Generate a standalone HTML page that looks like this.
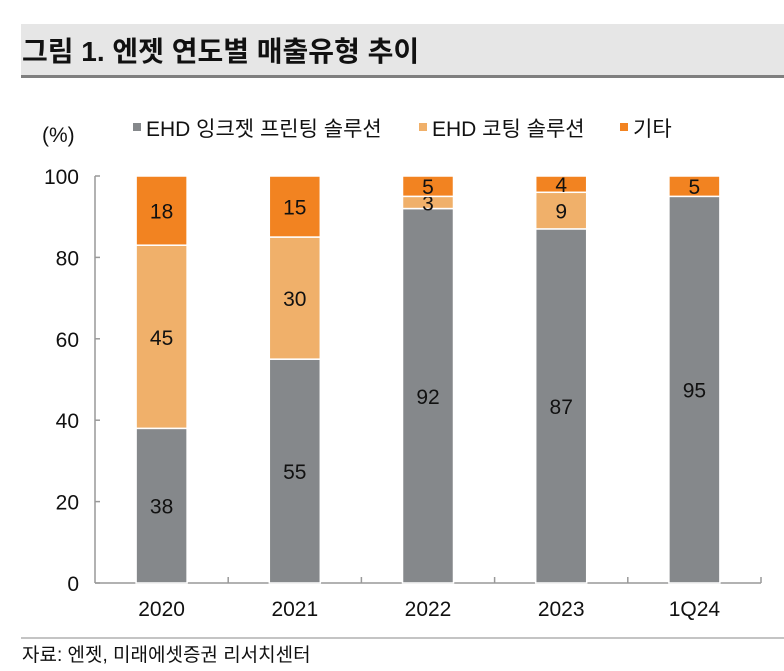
<!DOCTYPE html>
<html><head><meta charset="utf-8"><style>
body{margin:0;width:784px;height:666px;background:#fff;overflow:hidden;font-family:"Liberation Sans","Noto Sans CJK KR",sans-serif;}
</style></head><body>
<svg width="784" height="666" xmlns="http://www.w3.org/2000/svg" style="font-family:'Liberation Sans','Noto Sans CJK KR',sans-serif">
<rect x="21" y="24" width="763" height="51" fill="#e6e6e6"/>
<rect x="21" y="75" width="763" height="3" fill="#7f7f7f"/>
<text x="22" y="61" font-size="28" font-weight="bold" fill="#111">그림 1. 엔젯 연도별 매출유형 추이</text>
<text x="42" y="142" font-size="21" fill="#111">(%)</text>
<g font-size="21" fill="#111">
<rect x="133" y="123" width="8" height="8" fill="#85888b"/>
<text x="146" y="136">EHD 잉크젯 프린팅 솔루션</text>
<rect x="419" y="123" width="8" height="8" fill="#f0b06a"/>
<text x="432" y="136">EHD 코팅 솔루션</text>
<rect x="620" y="123" width="8" height="8" fill="#f28321"/>
<text x="633" y="136">기타</text>
</g>
<g id="chart"></g>
<line x1="21" y1="638" x2="784" y2="638" stroke="#888" stroke-width="1"/>
<text x="22" y="661" font-size="19" fill="#111">자료: 엔젯, 미래에셋증권 리서치센터</text>
</svg>
<script>
const categories=["2020","2021","2022","2023","1Q24"];
const inkjet=[38,55,92,87,95];
const coating=[45,30,3,9,0];
const other=[18,15,5,4,5];
const yTicks=[0,20,40,60,80,100];
const NS="http://www.w3.org/2000/svg";
const g=document.getElementById("chart");
const x0=95,x1=761,y0=583,y100=176;
const bw=(x1-x0)/categories.length;
const y=v=>y0-(y0-y100)*v/100;
function mk(t,a){const e=document.createElementNS(NS,t);for(const k in a)e.setAttribute(k,a[k]);g.appendChild(e);return e;}
let ax=mk("line",{x1:x0,y1:y100,x2:x0,y2:y0,stroke:"#999","stroke-width":1.5});


let xa=mk("line",{x1:x0,y1:y0,x2:x1,y2:y0,stroke:"#999","stroke-width":1.5});


yTicks.forEach(t=>{
  const tk=mk("line",{x1:x0,y1:y(t),x2:x0+5,y2:y(t),stroke:"#999","stroke-width":1.5});
  
  
  const tl=mk("text",{x:x0-16,y:y(t)+8,"font-size":21,"text-anchor":"end",fill:"#111"});
  tl.textContent=t;
  
  
});
for(let i=1;i<=categories.length;i++){
  const xt=x0+bw*i;
  const tk=mk("line",{x1:xt,y1:y0,x2:xt,y2:y0-6,stroke:"#999","stroke-width":1.5});
  
  
}
const series=[[inkjet,"#85888b","inkjet"],[coating,"#f0b06a","coating"],[other,"#f28321","other"]];
categories.forEach((c,i)=>{
  const cx=x0+bw*(i+0.5);
  let base=0;
  series.forEach(([arr,col,nm])=>{
    const v=arr[i];
    if(v>0){
      const top=Math.min(base+v,100);
      const r=mk("rect",{x:cx-25.5,y:y(top),width:51,height:y(base)-y(top),fill:col,stroke:"#fff","stroke-width":1.5});
      
      
      const lt=mk("text",{x:cx,y:(y(top)+y(base))/2+8,"font-size":21,"text-anchor":"middle",fill:"#111"});
      lt.textContent=v;
      
      
    }
    base+=v;
  });
  const xl=mk("text",{x:cx,y:616,"font-size":21,"text-anchor":"middle",fill:"#111"});
  xl.textContent=c;
  
  
});
</script>
</body></html>
